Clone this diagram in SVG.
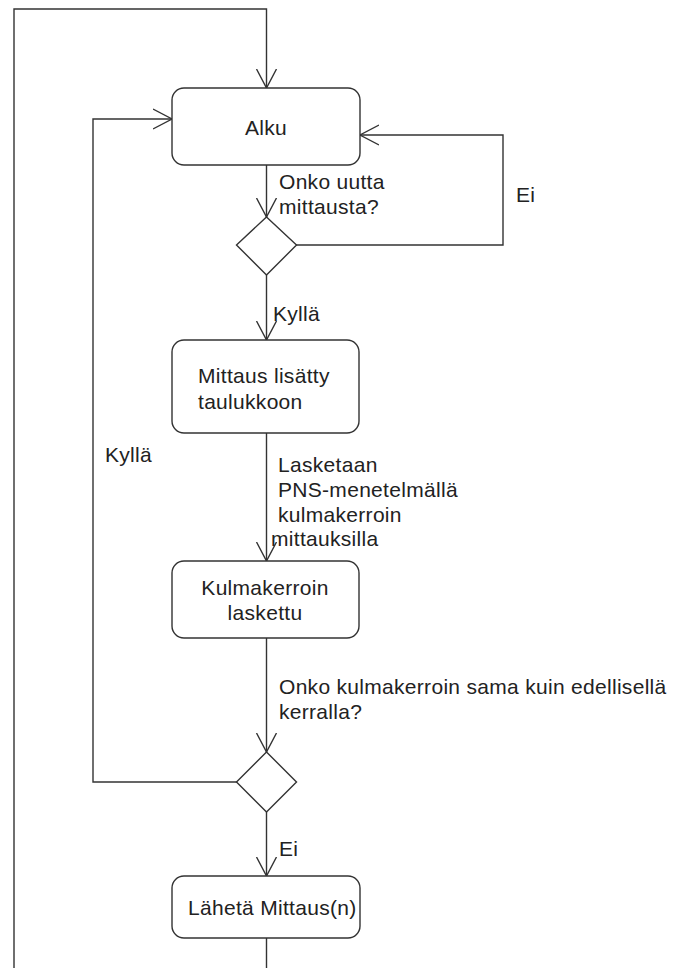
<svg xmlns="http://www.w3.org/2000/svg" width="676" height="968" viewBox="0 0 676 968">
  <style>
    .node { fill: #ffffff; stroke: #333333; stroke-width: 1.4; }
    .edge { fill: none; stroke: #333333; stroke-width: 1.4; }
    text { font-family: "Liberation Sans", Arial, sans-serif; font-size: 21px; fill: #222222; letter-spacing: 0.3px; }
    .c { text-anchor: middle; }
  </style>
  <defs>
    <marker id="open" markerUnits="userSpaceOnUse" markerWidth="22" markerHeight="24" refX="19" refY="11" orient="auto">
      <path d="M0,1 L19,11 L0,21" fill="none" stroke="#333333" stroke-width="1.4"/>
    </marker>
  </defs>
  <rect width="676" height="968" fill="#ffffff"/>

  <g id="connectors">
    <!-- outer loop: send back to the start -->
    <path class="edge" d="M266.5,938 V990 H14 V9 H266.5 V88" marker-end="url(#open)"/>
    <!-- Kyllä loop from the second decision -->
    <path class="edge" d="M237,782 H93 V119 H172" marker-end="url(#open)"/>
    <!-- Alku to first decision -->
    <path class="edge" d="M266.5,165 V217" marker-end="url(#open)"/>
    <!-- Ei loop from first decision -->
    <path class="edge" d="M296,245 H503 V135 H360" marker-end="url(#open)"/>
    <!-- first decision to Mittaus -->
    <path class="edge" d="M266.5,275 V340" marker-end="url(#open)"/>
    <!-- Mittaus to Kulmakerroin -->
    <path class="edge" d="M266.5,433 V561" marker-end="url(#open)"/>
    <!-- Kulmakerroin to second decision -->
    <path class="edge" d="M266.5,638 V752" marker-end="url(#open)"/>
    <!-- second decision to send -->
    <path class="edge" d="M266.5,812 V876" marker-end="url(#open)"/>
  </g>

  <g id="alku">
    <rect class="node" x="172" y="88" width="188" height="77" rx="12"/>
    <text class="c" x="266" y="135">Alku</text>
  </g>

  <g id="decision1">
    <polygon class="node" points="266.5,217 296.5,245 266.5,275 236.5,245"/>
  </g>

  <g id="mittaus">
    <rect class="node" x="172" y="340" width="187" height="93" rx="12"/>
    <text x="198" y="383">Mittaus lisätty</text>
    <text x="198" y="409">taulukkoon</text>
  </g>

  <g id="kulmakerroin">
    <rect class="node" x="172" y="561" width="187" height="77" rx="12"/>
    <text class="c" x="265" y="595">Kulmakerroin</text>
    <text class="c" x="265" y="620">laskettu</text>
  </g>

  <g id="decision2">
    <polygon class="node" points="266.5,752 296.5,782 266.5,812 236.5,782"/>
  </g>

  <g id="laheta">
    <rect class="node" x="172" y="876" width="188" height="62" rx="12"/>
    <text x="188" y="915">Lähetä Mittaus(n)</text>
  </g>

  <g id="labels">
    <text x="279" y="189">Onko uutta</text>
    <text x="279" y="214">mittausta?</text>
    <text x="516" y="202">Ei</text>
    <text x="273" y="321">Kyllä</text>
    <text x="105" y="462">Kyllä</text>
    <text x="278" y="472">Lasketaan</text>
    <text x="278" y="497">PNS-menetelmällä</text>
    <text x="278" y="522">kulmakerroin</text>
    <text x="271" y="546">mittauksilla</text>
    <text x="279" y="694">Onko kulmakerroin sama kuin edellisellä</text>
    <text x="279" y="719">kerralla?</text>
    <text x="279" y="856">Ei</text>
  </g>
</svg>
